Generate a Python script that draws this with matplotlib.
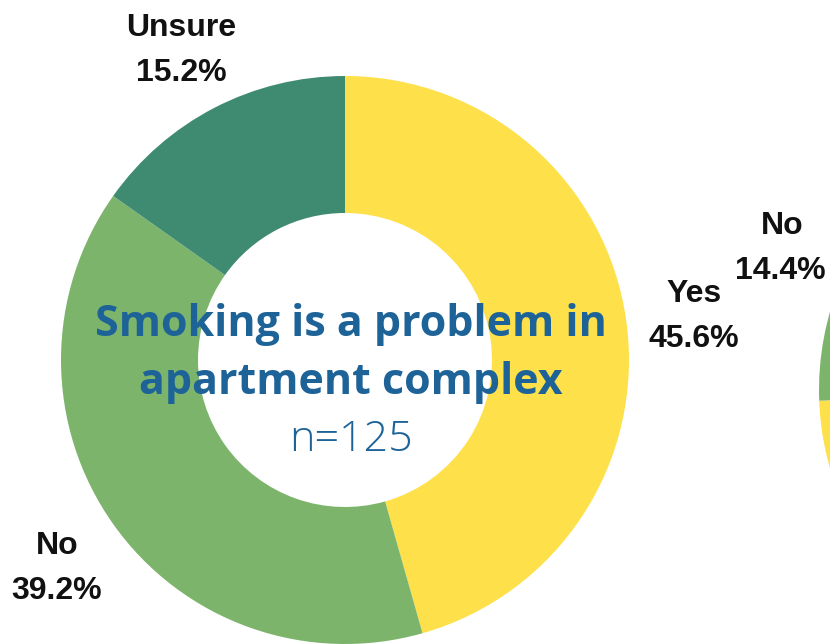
import matplotlib
matplotlib.use("Agg")
import matplotlib.pyplot as plt

# survey responses, n=125
answers = ["Yes", "No", "Unsure"]
share_complex = [45.6, 39.2, 15.2]     # smoking is a problem in apartment complex
share_next = [74.4, 14.4, 11.2]        # neighbouring chart, only its edge shows
sample_size = 125

colors = ["#FEE04A", "#7DB46C", "#3F8B72"]
blue = "#1D6398"

W, H = 830, 644
fig = plt.figure(figsize=(W / 100, H / 100), dpi=100)
ax = fig.add_axes([0, 0, 1, 1])

outer, ring = 284, 137
ax.pie(share_complex, colors=colors, startangle=90, counterclock=False,
       center=(345, H - 360), radius=outer,
       wedgeprops=dict(width=ring, linewidth=0))
ax.pie(share_next, colors=colors, startangle=90, counterclock=False,
       center=(1103, H - 390), radius=outer,
       wedgeprops=dict(width=ring, linewidth=0))

ax.set_xlim(0, W)
ax.set_ylim(0, H)
ax.set_aspect("equal")
ax.axis("off")

lab = dict(fontsize=23, fontweight="bold", family="Liberation Sans",
           color="#111111", ha="center", va="center")
label_pos = {
    "Unsure": (181, 28),
    "Yes": (694, 294),
    "No": (57, 546),
}
for name, val in zip(answers, share_complex):
    x, y = label_pos[name]
    ax.text(x, H - y, name, **lab)
    ax.text(x, H - y - 45, f"{val:.1f}%", **lab)

# label of the neighbouring chart
ax.text(782, H - 226, answers[1], **lab)
ax.text(780, H - 271, f"{share_next[1]:.1f}%", **lab)

title = dict(fontsize=31, fontweight="bold", family="Open Sans",
             color=blue, ha="center", va="center")
ax.text(351, H - 324, "Smoking is a problem in", **title)
ax.text(351, H - 382, "apartment complex", **title)
ax.text(351, H - 440, f"n={sample_size}", fontsize=31, fontweight="light",
        family="Open Sans", color=blue, ha="center", va="center")

fig.savefig("out.png", dpi=100, facecolor="white")
